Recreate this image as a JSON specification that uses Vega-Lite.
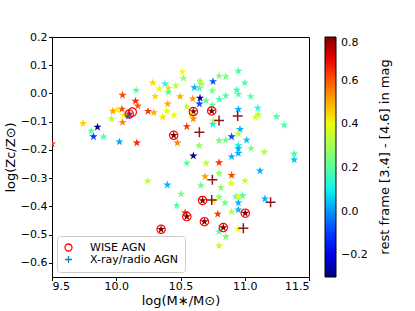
{
  "$schema": "https://vega.github.io/schema/vega-lite/v6.json",
  "autosize": "none",
  "width": 257,
  "height": 240,
  "padding": {"left": 52, "top": 37, "right": 106, "bottom": 34},
  "title": {"text": "rest frame [3.4] - [4.6] in mag", "orient": "right", "anchor": "middle", "frame": "group", "angle": 270, "baseline": "top", "offset": -2, "fontSize": 13, "fontWeight": "normal", "font": "DejaVu Sans", "color": "#000000"},
  "config": {
    "font": "DejaVu Sans",
    "view": {"stroke": "#000000", "strokeWidth": 1},
    "axis": {"grid": false, "domainColor": "#000000", "tickColor": "#000000", "tickSize": 3.5, "labelColor": "#000000", "labelFontSize": 11, "titleFontSize": 13, "titleFontWeight": "normal", "titleColor": "#000000", "labelFont": "DejaVu Sans", "titleFont": "DejaVu Sans"},
    "legend": {"labelFont": "DejaVu Sans", "titleFont": "DejaVu Sans", "labelColor": "#000000", "titleColor": "#000000"}
  },
  "datasets": {
    "stars": [
      {"x": 10.515, "y": 0.077, "c": 0.4},
      {"x": 10.523, "y": 0.054, "c": 0.27},
      {"x": 10.285, "y": 0.038, "c": 0.45},
      {"x": 10.38, "y": 0.034, "c": 0.15},
      {"x": 10.334, "y": 0.016, "c": 0.38},
      {"x": 10.406, "y": 0.018, "c": 0.44},
      {"x": 10.406, "y": 0.004, "c": 0.2},
      {"x": 10.463, "y": 0.027, "c": 0.33},
      {"x": 10.155, "y": 0.011, "c": 0.2},
      {"x": 10.303, "y": -0.01, "c": 0.45},
      {"x": 10.049, "y": -0.006, "c": 0.62},
      {"x": 10.497, "y": -0.011, "c": 0.5},
      {"x": 10.15, "y": -0.027, "c": 0.66},
      {"x": 10.168, "y": -0.044, "c": 0.6},
      {"x": 10.401, "y": -0.037, "c": 0.5},
      {"x": 10.044, "y": -0.055, "c": 0.62},
      {"x": 10.549, "y": -0.047, "c": 0.33},
      {"x": 9.974, "y": -0.062, "c": 0.52},
      {"x": 10.005, "y": -0.058, "c": 0.42},
      {"x": 10.248, "y": -0.063, "c": 0.64},
      {"x": 10.292, "y": -0.068, "c": 0.5},
      {"x": 10.393, "y": -0.062, "c": 0.4},
      {"x": 10.101, "y": -0.073, "c": 0.75},
      {"x": 10.093, "y": -0.079, "c": -0.05},
      {"x": 10.057, "y": -0.077, "c": 0.4},
      {"x": 10.45, "y": -0.077, "c": 0.4},
      {"x": 10.362, "y": -0.084, "c": 0.44},
      {"x": 9.963, "y": -0.09, "c": 0.33},
      {"x": 10.049, "y": -0.102, "c": 0.55},
      {"x": 10.549, "y": -0.117, "c": 0.64},
      {"x": 9.741, "y": -0.106, "c": 0.46},
      {"x": 9.854, "y": -0.119, "c": -0.27},
      {"x": 9.805, "y": -0.133, "c": 0.2},
      {"x": 9.823, "y": -0.153, "c": -0.1},
      {"x": 9.901, "y": -0.154, "c": 0.2},
      {"x": 10.025, "y": -0.171, "c": 0.02},
      {"x": 10.16, "y": -0.175, "c": 0.66},
      {"x": 10.447, "y": -0.148, "c": 0.8},
      {"x": 10.476, "y": -0.175, "c": 0.55},
      {"x": 9.5, "y": -0.178, "c": 0.66},
      {"x": 10.95, "y": 0.079, "c": 0.18},
      {"x": 10.8, "y": 0.062, "c": 0.25},
      {"x": 10.852, "y": 0.06, "c": 0.25},
      {"x": 10.753, "y": 0.042, "c": -0.07},
      {"x": 11.0, "y": 0.038, "c": 0.18},
      {"x": 10.652, "y": 0.044, "c": 0.3},
      {"x": 10.665, "y": 0.033, "c": 0.32},
      {"x": 10.608, "y": 0.021, "c": 0.03},
      {"x": 10.647, "y": 0.018, "c": 0.18},
      {"x": 10.748, "y": 0.009, "c": 0.25},
      {"x": 10.937, "y": 0.012, "c": 0.15},
      {"x": 10.95, "y": -0.003, "c": 0.2},
      {"x": 10.595, "y": -0.019, "c": 0.52},
      {"x": 10.652, "y": -0.016, "c": -0.27},
      {"x": 10.852, "y": -0.008, "c": 0.18},
      {"x": 11.046, "y": -0.011, "c": 0.2},
      {"x": 10.802, "y": -0.021, "c": 0.18},
      {"x": 10.699, "y": -0.025, "c": 0.2},
      {"x": 10.647, "y": -0.037, "c": -0.08},
      {"x": 10.748, "y": -0.041, "c": 0.2},
      {"x": 11.101, "y": -0.052, "c": 0.12},
      {"x": 10.95, "y": -0.056, "c": 0.03},
      {"x": 10.6, "y": -0.064, "c": 0.8},
      {"x": 10.743, "y": -0.062, "c": 0.8},
      {"x": 10.582, "y": -0.076, "c": 0.4},
      {"x": 10.6, "y": -0.09, "c": 0.55},
      {"x": 10.756, "y": -0.096, "c": 0.4},
      {"x": 10.751, "y": -0.109, "c": 0.1},
      {"x": 11.105, "y": -0.076, "c": 0.33},
      {"x": 11.085, "y": -0.084, "c": 0.38},
      {"x": 11.248, "y": -0.082, "c": 0.18},
      {"x": 11.307, "y": -0.112, "c": 0.18},
      {"x": 10.963, "y": -0.127, "c": 0.03},
      {"x": 10.95, "y": -0.143, "c": 0.33},
      {"x": 10.898, "y": -0.153, "c": -0.08},
      {"x": 11.015, "y": -0.165, "c": 0.05},
      {"x": 10.8, "y": -0.167, "c": 0.25},
      {"x": 10.852, "y": -0.165, "c": 0.23},
      {"x": 10.645, "y": -0.185, "c": 0.27},
      {"x": 10.95, "y": -0.184, "c": 0.12},
      {"x": 10.95, "y": -0.195, "c": 0.03},
      {"x": 10.95, "y": -0.212, "c": 0.03},
      {"x": 11.049, "y": -0.194, "c": 0.25},
      {"x": 11.152, "y": -0.208, "c": 0.33},
      {"x": 11.385, "y": -0.214, "c": 0.18},
      {"x": 11.385, "y": -0.235, "c": 0.05},
      {"x": 10.6, "y": -0.221, "c": -0.27},
      {"x": 10.549, "y": -0.247, "c": 0.2},
      {"x": 10.699, "y": -0.247, "c": 0.33},
      {"x": 10.8, "y": -0.245, "c": 0.64},
      {"x": 10.898, "y": -0.224, "c": 0.03},
      {"x": 11.118, "y": -0.274, "c": 0.03},
      {"x": 10.691, "y": -0.294, "c": 0.52},
      {"x": 10.8, "y": -0.283, "c": 0.28},
      {"x": 10.898, "y": -0.29, "c": 0.62},
      {"x": 10.893, "y": -0.318, "c": 0.38},
      {"x": 11.002, "y": -0.309, "c": 0.33},
      {"x": 10.658, "y": -0.326, "c": 0.23},
      {"x": 10.815, "y": -0.333, "c": 0.27},
      {"x": 10.505, "y": -0.356, "c": 0.25},
      {"x": 10.672, "y": -0.379, "c": 0.8},
      {"x": 10.756, "y": -0.382, "c": 0.4},
      {"x": 10.8, "y": -0.367, "c": 0.27},
      {"x": 10.932, "y": -0.365, "c": 0.15},
      {"x": 10.983, "y": -0.362, "c": 0.18},
      {"x": 10.95, "y": -0.367, "c": 0.4},
      {"x": 10.95, "y": -0.387, "c": 0.03},
      {"x": 10.847, "y": -0.387, "c": 0.23},
      {"x": 11.157, "y": -0.373, "c": 0.03},
      {"x": 10.95, "y": -0.412, "c": 0.03},
      {"x": 10.898, "y": -0.419, "c": 0.33},
      {"x": 11.004, "y": -0.424, "c": 0.8},
      {"x": 10.79, "y": -0.427, "c": 0.64},
      {"x": 10.536, "y": -0.422, "c": 0.64},
      {"x": 10.549, "y": -0.436, "c": 0.8},
      {"x": 10.686, "y": -0.454, "c": 0.8},
      {"x": 10.833, "y": -0.475, "c": 0.8},
      {"x": 10.95, "y": -0.481, "c": 0.4},
      {"x": 10.8, "y": -0.489, "c": 0.2},
      {"x": 10.852, "y": -0.507, "c": 0.25},
      {"x": 10.8, "y": -0.54, "c": 0.35},
      {"x": 10.245, "y": -0.31, "c": 0.33},
      {"x": 10.398, "y": -0.324, "c": 0.03},
      {"x": 10.471, "y": -0.397, "c": 0.2},
      {"x": 10.349, "y": -0.481, "c": 0.8}
    ],
    "agn": [
      {"x": 10.101, "y": -0.073, "type": "WISE AGN"},
      {"x": 10.125, "y": -0.066, "type": "WISE AGN"},
      {"x": 10.447, "y": -0.148, "type": "WISE AGN"},
      {"x": 10.6, "y": -0.064, "type": "WISE AGN"},
      {"x": 10.743, "y": -0.062, "type": "WISE AGN"},
      {"x": 10.672, "y": -0.379, "type": "WISE AGN"},
      {"x": 11.004, "y": -0.424, "type": "WISE AGN"},
      {"x": 10.549, "y": -0.436, "type": "WISE AGN"},
      {"x": 10.686, "y": -0.454, "type": "WISE AGN"},
      {"x": 10.833, "y": -0.475, "type": "WISE AGN"},
      {"x": 10.349, "y": -0.481, "type": "WISE AGN"}
    ],
    "xray": [
      {"x": 10.8, "y": -0.096, "type": "X-ray/radio AGN"},
      {"x": 10.945, "y": -0.08, "type": "X-ray/radio AGN"},
      {"x": 10.647, "y": -0.137, "type": "X-ray/radio AGN"},
      {"x": 10.748, "y": -0.306, "type": "X-ray/radio AGN"},
      {"x": 10.743, "y": -0.377, "type": "X-ray/radio AGN"},
      {"x": 11.201, "y": -0.385, "type": "X-ray/radio AGN"},
      {"x": 10.989, "y": -0.477, "type": "X-ray/radio AGN"}
    ]
  },
  "encoding": {
    "x": {"field": "x", "type": "quantitative", "scale": {"domain": [9.5, 11.5], "nice": false, "zero": false}, "axis": {"values": [9.5, 10, 10.5, 11, 11.5], "format": ".1f", "title": "log(M∗/M⊙)", "labelPadding": 0, "titlePadding": 3}},
    "y": {"field": "y", "type": "quantitative", "scale": {"domain": [-0.65, 0.2], "nice": false, "zero": false}, "axis": {"values": [-0.6, -0.5, -0.4, -0.3, -0.2, -0.1, 0, 0.1, 0.2], "format": ".1f", "title": "log(Zc/Z⊙)", "labelPadding": 1.5, "titlePadding": 3}}
  },
  "layer": [
    {
      "data": {"name": "stars"},
      "mark": {"type": "point", "filled": true, "shape": "M0,-1L0.225,-0.309L0.951,-0.309L0.363,0.118L0.588,0.809L0,0.382L-0.588,0.809L-0.363,0.118L-0.951,-0.309L-0.225,-0.309Z", "size": 75, "opacity": 1, "strokeWidth": 0, "clip": true},
      "encoding": {
        "fill": {"field": "c", "type": "quantitative",
          "scale": {"type": "linear", "domain": [-0.3, -0.179, -0.1625, 0.074, 0.1125, 0.25, 0.404, 0.426, 0.679, 0.701, 0.8], "range": ["#000080", "#0000ff", "#0000ff", "#00dbff", "#14ffe2", "#7bff7b", "#eeff08", "#ffec00", "#ff1300", "#e80000", "#800000"], "interpolate": "rgb", "clamp": true},
          "legend": {"title": null, "orient": "right", "offset": 16, "direction": "vertical", "gradientLength": 240, "gradientThickness": 11, "gradientStrokeColor": "#000000", "gradientStrokeWidth": 1, "values": [-0.2, 0, 0.2, 0.4, 0.6, 0.8], "format": ".1f", "labelFontSize": 11, "labelOffset": 5, "labelBaseline": "middle"}}
      }
    },
    {
      "data": {"name": "agn"},
      "mark": {"type": "point", "filled": false, "size": 70, "strokeWidth": 1.2, "opacity": 1},
      "encoding": {
        "shape": {"field": "type", "type": "nominal", "scale": {"domain": ["WISE AGN", "X-ray/radio AGN"], "range": ["circle", "M-1,0L1,0M0,-1L0,1"]}, "legend": {"title": null, "orient": "bottom-left", "offset": 5, "fillColor": "#ffffff", "strokeColor": "#cccccc", "cornerRadius": 3, "padding": 6, "labelFontSize": 11, "labelOffset": 16, "rowPadding": -3, "symbolSize": 49, "symbolStrokeWidth": 1.3}},
        "stroke": {"field": "type", "type": "nominal", "scale": {"domain": ["WISE AGN", "X-ray/radio AGN"], "range": ["#ff0000", "#1f77b4"]}, "legend": {"title": null, "orient": "bottom-left", "offset": 5, "fillColor": "#ffffff", "strokeColor": "#cccccc", "cornerRadius": 3, "padding": 6, "labelFontSize": 11, "labelOffset": 16, "rowPadding": -3, "symbolSize": 49, "symbolStrokeWidth": 1.3}}
      }
    },
    {
      "data": {"name": "xray"},
      "mark": {"type": "point", "filled": false, "size": 100, "strokeWidth": 1.5, "stroke": "#8b1c1c", "opacity": 1},
      "encoding": {
        "shape": {"field": "type", "type": "nominal", "scale": {"domain": ["WISE AGN", "X-ray/radio AGN"], "range": ["circle", "M-1,0L1,0M0,-1L0,1"]}, "legend": {"title": null, "orient": "bottom-left", "offset": 5, "fillColor": "#ffffff", "strokeColor": "#cccccc", "cornerRadius": 3, "padding": 6, "labelFontSize": 11, "labelOffset": 16, "rowPadding": -3, "symbolSize": 49, "symbolStrokeWidth": 1.3}}
      }
    }
  ]
}
